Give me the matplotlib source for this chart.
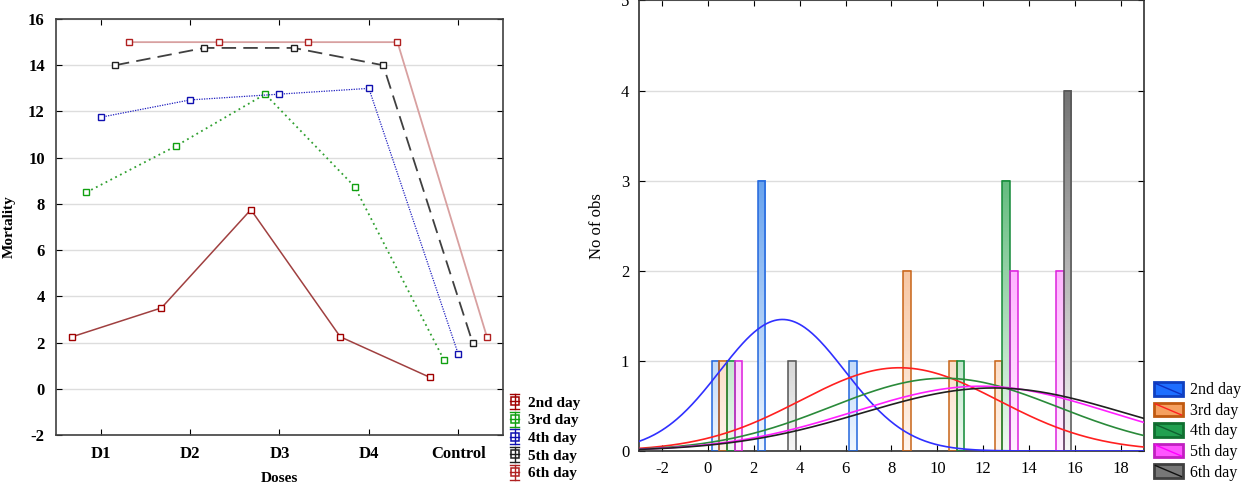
import numpy as np
import matplotlib
matplotlib.use('Agg')
import matplotlib.pyplot as plt
from matplotlib.patches import Rectangle
from matplotlib.lines import Line2D
from matplotlib.legend_handler import HandlerBase
from matplotlib.colors import LinearSegmentedColormap

plt.rcParams['font.family'] = ['Liberation Serif', 'DejaVu Serif']
plt.rcParams['axes.unicode_minus'] = False

# Data: mortality per dose for each day
doses = ['D1', 'D2', 'D3', 'D4', 'Control']
days = ['2nd day', '3rd day', '4th day', '5th day', '6th day']
day2 = [2.25, 3.5, 7.75, 2.25, 0.5]
day3 = [8.5, 10.5, 12.75, 8.75, 1.25]
day4 = [11.75, 12.5, 12.75, 13.0, 1.5]
day5 = [14.0, 14.75, 14.75, 14.0, 2.0]
day6 = [15.0, 15.0, 15.0, 15.0, 2.25]
series = [day2, day3, day4, day5, day6]

bin_edges = np.arange(0, 18, 2)

# left panel styles
line_styles = [
    dict(color='#a04040', ls='-', lw=1.1, mec='#a00000'),
    dict(color='#30a030', ls=(0, (1, 2)), lw=1.3, mec='#10a010'),
    dict(color='#2020c0', ls=(0, (1, 1)), lw=0.9, mec='#1010b0'),
    dict(color='#404040', ls=(0, (8, 4)), lw=1.3, mec='#202020'),
    dict(color='#d8a0a0', ls='-', lw=1.3, mec='#b02020'),
]
offsets = [-0.32, -0.16, 0.0, 0.16, 0.32]

# right panel styles
bar_edge = ['#2266dd', '#c86418', '#138a38', '#dd22dd', '#555555']
bar_light = ['#f0f7ff', '#fff4ec', '#eefaf1', '#fff0ff', '#f6f6f6']
bar_dark = ['#3a86e8', '#f09a5c', '#38a85a', '#ff78ff', '#747474']
curve_col = ['#3030ff', '#ff2020', '#2a8a3a', '#ff20ff', '#202020']
leg_face = ['#1e6eff', '#f5a060', '#22a050', '#ff55ff', '#777777']
leg_edge = ['#1040c0', '#c05a10', '#107030', '#c020c0', '#404040']
leg_diag = ['#1030c0', '#ff2020', '#106030', '#ff00ff', '#101010']


class ErrMarkerHandler(HandlerBase):
    def create_artists(self, legend, orig_handle, xdescent, ydescent,
                       width, height, fontsize, trans):
        c = orig_handle.get_markeredgecolor()
        cx = -xdescent + width / 2
        cy = -ydescent + height / 2
        h = height * 0.7
        w = width * 0.55
        arts = [
            Line2D([cx, cx], [cy - h, cy + h], color=c, lw=1, transform=trans),
            Line2D([cx - w / 2, cx + w / 2], [cy - h, cy - h], color=c, lw=1, transform=trans),
            Line2D([cx - w / 2, cx + w / 2], [cy + h, cy + h], color=c, lw=1, transform=trans),
            Line2D([cx - w / 2, cx + w / 2], [cy, cy], color=c, lw=1, transform=trans),
            Line2D([cx], [cy], marker='s', ms=6, mfc='none', mec=c, mew=1.1, transform=trans),
        ]
        return arts


class DiagPatchHandler(HandlerBase):
    def create_artists(self, legend, orig_handle, xdescent, ydescent,
                       width, height, fontsize, trans):
        fc, ec, dc = orig_handle
        x0, y0 = -xdescent, -ydescent
        r = Rectangle((x0, y0), width, height, facecolor=fc, edgecolor=ec, lw=2, transform=trans)
        l = Line2D([x0 + 1, x0 + width - 1], [y0 + height - 1, y0 + 1], color=dc, lw=1, transform=trans)
        return [r, l]


fig = plt.figure(figsize=(12.41, 4.82), dpi=100)

# ---------- left: mortality by dose ----------
ax1 = fig.add_axes([0.0451, 0.0975, 0.3602, 0.863])
xpos = np.arange(len(doses))
handles1 = []
for vals, st, off, lab in zip(series, line_styles, offsets, days):
    ln, = ax1.plot(xpos + off, vals, color=st['color'], ls=st['ls'], lw=st['lw'],
                   marker='s', ms=5, mfc='white', mec=st['mec'], mew=1.0, label=lab)
    handles1.append(ln)

ax1.set_xlim(-0.5, 4.5)
ax1.set_ylim(-2, 16)
ax1.set_xticks(xpos)
ax1.set_xticklabels(doses, fontweight='bold', fontsize=12)
ax1.set_yticks(np.arange(-2, 17, 2))
for t in ax1.get_yticklabels():
    t.set_fontweight('bold')
    t.set_fontsize(12)
ax1.yaxis.grid(True, color='#dddddd', lw=1)
ax1.set_axisbelow(True)
ax1.tick_params(direction='in', top=True, right=True, length=4, pad=8)
ax1.set_xlabel('Doses', fontweight='bold', fontsize=11)
ax1.xaxis.set_label_coords(0.5, -0.088)
ax1.set_ylabel('Mortality', fontweight='bold', fontsize=11)
ax1.yaxis.set_label_coords(-0.089, 0.5)
for s in ax1.spines.values():
    s.set_color('#404040')
    s.set_linewidth(1.2)

fig.legend(handles1, days, loc='upper left', bbox_to_anchor=(507 / 1241, (482 - 396) / 482),
           frameon=False, borderpad=0, borderaxespad=0, handlelength=1.0, handletextpad=0.4,
           labelspacing=0.26, prop=dict(weight='bold', size=11),
           handler_map={Line2D: ErrMarkerHandler()})

# ---------- right: histogram with normal fits ----------
ax2 = fig.add_axes([0.5149, 0.0643, 0.4069, 0.9347])
bw = bin_edges[1] - bin_edges[0]
sub_w = bw / 6
for k, vals in enumerate(series):
    v = np.array(vals)
    idx = np.digitize(v, bin_edges, right=True) - 1
    counts = np.bincount(idx, minlength=len(bin_edges) - 1)[:len(bin_edges) - 1]
    lefts = bin_edges[:-1] + sub_w / 2 + k * sub_w
    keep = counts > 0
    lefts, counts = lefts[keep], counts[keep]
    cmap = LinearSegmentedColormap.from_list('g%d' % k, [bar_light[k], bar_dark[k]])
    for x0, h in zip(lefts, counts):
        grad = np.linspace(h, 0, 50).reshape(-1, 1)
        ax2.imshow(grad, extent=(x0, x0 + sub_w, 0, h), aspect='auto', cmap=cmap,
                   vmin=0, vmax=4, zorder=2, interpolation='bilinear')
    ax2.bar(lefts, counts, width=sub_w, align='edge', fill=False,
            edgecolor=bar_edge[k], lw=1.1, zorder=3)

xs = np.linspace(-3, 19, 400)
n = len(day2)
for k, vals in enumerate(series):
    v = np.array(vals)
    mu, sd = v.mean(), v.std(ddof=1)
    ys = n * bw / (sd * np.sqrt(2 * np.pi)) * np.exp(-0.5 * ((xs - mu) / sd) ** 2)
    ax2.plot(xs, ys, color=curve_col[k], lw=1.2, zorder=4)

ax2.set_xlim(-3, 19)
ax2.set_ylim(0, 5)
ax2.set_xticks(np.arange(-2, 19, 2))
ax2.set_yticks(np.arange(0, 6, 1))
ax2.tick_params(labelsize=12, direction='in', top=True, right=True, length=4, pad=7)
ax2.yaxis.grid(True, color='#dddddd', lw=1)
ax2.set_axisbelow(True)
ax2.set_ylabel('No of obs', fontsize=12)
ax2.yaxis.set_label_coords(-0.067, 0.5)
for s in ax2.spines.values():
    s.set_color('#303030')
    s.set_linewidth(1.2)

leg_handles = [(leg_face[k], leg_edge[k], leg_diag[k]) for k in range(5)]
fig.legend(leg_handles, days, loc='upper left', bbox_to_anchor=(1154 / 1241, (482 - 382) / 482),
           frameon=False, borderpad=0, borderaxespad=0, handlelength=1.8, handleheight=0.95,
           handletextpad=0.45, labelspacing=0.26, prop=dict(size=11.5),
           handler_map={tuple: DiagPatchHandler()})

fig.savefig('out.png', dpi=100)
